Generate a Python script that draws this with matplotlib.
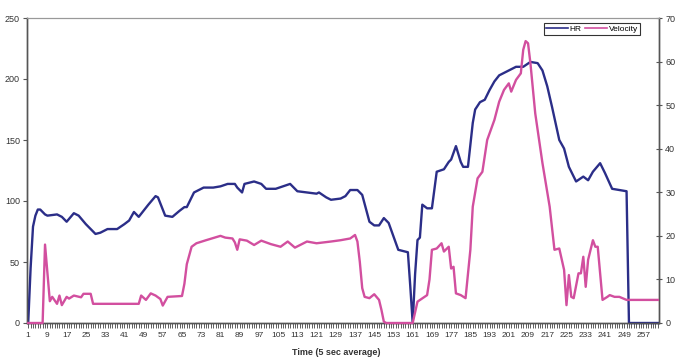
import numpy as np
import matplotlib.pyplot as plt

plt.rcParams['font.family'] = ['Liberation Sans', 'DejaVu Sans']

# time index (5 sec average) and values at the vertices of each trace
hr_t = [1, 2, 3, 4, 5, 6, 8, 9, 13, 15, 17, 20, 22, 25, 29, 31, 34, 38, 41, 43,
        45, 47, 51, 54, 55, 58, 61, 64, 66, 67, 70, 74, 78, 81, 84, 87, 88, 90,
        91, 95, 98, 100, 104, 107, 110, 113, 117, 121, 122, 125, 127, 131, 133,
        135, 138, 140, 143, 145, 147, 149, 151, 153, 155, 159, 160, 161, 162,
        163, 164, 165, 167, 169, 171, 174, 176, 177, 179, 181, 182, 184, 186,
        187, 189, 191, 193, 195, 197, 200, 204, 207, 210, 213, 215, 217, 219,
        222, 224, 226, 229, 232, 234, 236, 239, 241, 244, 247, 250, 251, 263]
hr = [0, 45, 79, 88, 93, 93, 89, 88, 89, 87, 83, 90, 88, 81, 73, 74, 77, 77, 81, 84,
      91, 87, 97, 104, 103, 88, 87, 92, 95, 95, 107, 111, 111, 112, 114, 114, 111, 107,
      114, 116, 114, 110, 110, 112, 114, 108, 107, 106, 107, 103, 101, 102, 104,
      109, 109, 105, 83, 80, 80, 86, 82, 71, 60, 58, 30, 0, 40,
      68, 70, 97, 94, 94, 124, 126, 132, 134, 145, 132, 128, 128, 164,
      175, 181, 183, 191, 198, 203, 206, 210, 210, 214, 213, 207, 194, 177,
      150, 143, 128, 116, 120, 117, 124, 131, 123, 110, 109, 108, 0, 0]

vel_t = [1, 7, 8, 10, 11, 13, 14, 15, 17, 18, 20, 23, 24, 27, 28, 47, 48, 50, 52, 54,
         56, 57, 59, 65, 66, 67, 69, 71, 75, 78, 81, 83, 86, 87, 88, 89, 92, 95, 98,
         102, 106, 109, 112, 117, 121, 127, 131, 135, 137, 138, 139, 140, 141, 143,
         145, 147, 148, 149, 150, 161, 163, 167, 168, 169, 171, 173, 174, 176, 177,
         178, 179, 181, 183, 185, 186, 188, 190, 192, 195, 197, 199, 201, 202, 204,
         206, 207, 208, 209, 210, 212, 215, 218, 220, 222, 224, 225, 226, 227, 228,
         230, 231, 232, 233, 234, 236, 237, 238, 240, 242, 243, 245, 247, 250, 263]
vel = [0, 0, 18, 5, 6, 4.4, 6.3, 4.1, 6, 5.6, 6.3, 5.9, 6.7, 6.7, 4.4, 4.4, 6.3, 5.3, 6.8, 6.3,
       5.5, 4, 6, 6.2, 9, 13.5, 17.5, 18.3, 19, 19.5, 20, 19.6, 19.4, 18.5, 16.8, 19.2, 18.9, 17.9, 18.9,
       18.1, 17.5, 18.7, 17.3, 18.7, 18.3, 18.7, 19, 19.4, 20.2, 18.7, 14, 8, 6, 5.7,
       6.6, 5.3, 3, 0.3, 0, 0, 4.9, 6.4, 10, 16.8, 17.1, 18.3, 16.4, 17.5, 12.5,
       12.9, 6.8, 6.4, 5.7, 16.8, 26.7, 33.2, 34.7, 42, 46.6, 50.8, 53.5, 55, 53.1, 55.8,
       57.3, 62.7, 64.7, 64.2, 59.6, 48.1, 36.7, 26.7, 16.8, 17.1, 12.2, 4.1, 11, 6, 5.7,
       11.4, 11.4, 15.2, 8.3, 14.5, 19, 17.5, 17.5, 5.3, 6, 6.4, 6, 6, 5.3, 5.3]

n_points = 263
xtick_labels = [str(i) for i in range(1, n_points + 1, 8)]

fig = plt.figure(figsize=(6.81, 3.57), dpi=100)
ax = fig.add_axes([27 / 681, 1 - 323 / 357, 632 / 681, 305 / 357])
ax2 = ax.twinx()

l1, = ax.plot(hr_t, hr, color='#2b2e88', lw=1.7, zorder=3, clip_on=False, label='HR')
l2, = ax2.plot(vel_t, vel, color='#d24f9f', lw=1.7, zorder=3, clip_on=False, label='Velocity')

ax.set_xlim(0.5, n_points + 0.5)
ax.set_ylim(0, 250)
ax2.set_ylim(0, 70)
ax.set_yticks(range(0, 251, 50))
ax2.set_yticks(range(0, 71, 10))
ax.set_xticks(range(1, n_points + 1, 8))
ax.set_xticklabels(xtick_labels)
ax.set_xticks(range(1, n_points + 1), minor=True)

txt = '#333333'
ax.tick_params(axis='x', which='both', direction='out', length=3.5, width=0.6,
               colors='#444444', labelsize=6, labelcolor=txt, pad=3)
ax.tick_params(axis='y', direction='out', length=3, width=0.8, colors='#555555',
               labelsize=6.5, labelcolor=txt, pad=2)
ax2.tick_params(axis='y', direction='inout', length=5, width=0.8, colors='#555555',
                labelsize=6.5, labelcolor=txt, pad=2)

for a in (ax, ax2):
    for s in ('left', 'right', 'bottom'):
        a.spines[s].set_color('#555555')
        a.spines[s].set_linewidth(1.0)
    a.spines['top'].set_color('#999999')
    a.spines['top'].set_linewidth(0.8)

ax.set_xlabel('Time (5 sec average)', fontsize=6.5, fontweight='bold', color=txt)
ax.xaxis.set_label_coords(0.489, -0.083)

leg = ax2.legend([l1, l2], ['HR', 'Velocity'], ncol=2, loc='upper right',
                 bbox_to_anchor=(0.97, 0.984), fontsize=6, frameon=True, fancybox=False,
                 handlelength=2.6, handletextpad=0.2, columnspacing=0.5, borderpad=0.25,
                 borderaxespad=0)
leg.get_frame().set_edgecolor('black')
leg.get_frame().set_linewidth(0.8)
for line in leg.get_lines():
    line.set_linewidth(1.2)

fig.savefig('out.png', dpi=100)
